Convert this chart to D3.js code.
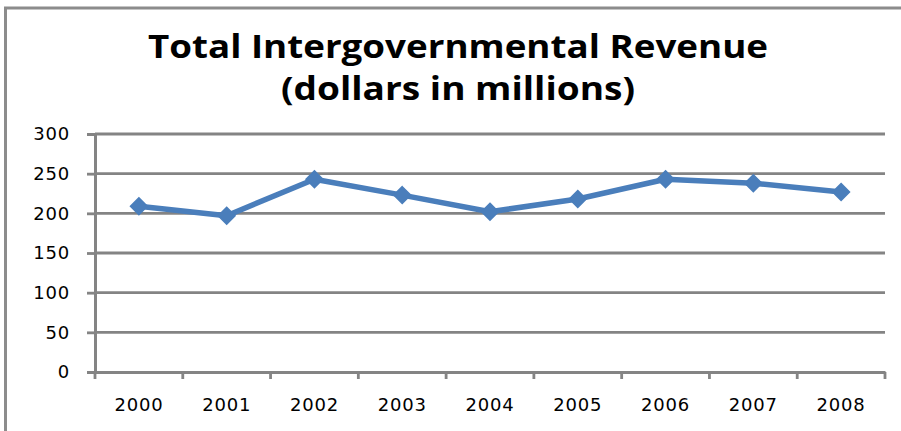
<!DOCTYPE html>
<html><head><meta charset="utf-8">
<script src="https://cdn.jsdelivr.net/npm/d3@7"></script>
<style>body{margin:0;background:#fff}svg{display:block}</style>
</head><body>
<script>
const years = ["2000","2001","2002","2003","2004","2005","2006","2007","2008"];
const revenue = [209, 197, 243, 223, 202, 218, 243, 238, 227];
const yTicks = [0, 50, 100, 150, 200, 250, 300];
const titleLines = ["Total Intergovernmental Revenue", "(dollars in millions)"];

const W = 901, H = 431;
const svg = d3.select("body").append("svg").attr("width", W).attr("height", H);
svg.append("rect").attr("width", W).attr("height", H).attr("fill", "#fff");

// outer chart border (only top/left visible)
svg.append("path").attr("d", `M5.5,${H} V8 H${W}`).attr("fill","none")
  .attr("stroke","#8c8c8c").attr("stroke-width",3);

const m = {left: 95, right: 885, top: 134, bottom: 372};
const x = d3.scaleBand().domain(years).range([m.left, m.right]);
const y = d3.scaleLinear().domain([0, 300]).range([m.bottom, m.top]);

const gridColor = "#848484";
const tickFont = sel => sel.attr("font-family","DejaVu Sans").attr("font-size",18)
  .attr("letter-spacing",0.8).attr("fill","#000");
// gridlines
svg.append("g").selectAll("line").data(yTicks.filter(d=>d>0)).join("line")
  .attr("x1", m.left).attr("x2", m.right)
  .attr("y1", d=>y(d)).attr("y2", d=>y(d))
  .attr("stroke", gridColor).attr("stroke-width", 2.8);

// y axis
const yAxis = svg.append("g").attr("transform", `translate(${m.left},0)`)
  .call(d3.axisLeft(y).tickValues(yTicks).tickSize(8).tickPadding(17));
yAxis.select(".domain").attr("stroke", gridColor).attr("stroke-width", 3);
yAxis.selectAll(".tick line").attr("stroke", gridColor).attr("stroke-width", 2.8);
yAxis.selectAll("text").call(tickFont);

// x axis
const xAxis = svg.append("g").attr("transform", `translate(0,${m.bottom})`)
  .call(d3.axisBottom(x).tickSize(0).tickPadding(26));
xAxis.select(".domain").attr("stroke", gridColor).attr("stroke-width", 3);
xAxis.selectAll("text").call(tickFont);
// category boundary tick marks
const bounds = years.map(d=>x(d)).concat([m.right]);
svg.append("g").selectAll("line").data(bounds).join("line")
  .attr("x1", d=>d).attr("x2", d=>d).attr("y1", m.bottom).attr("y2", m.bottom+7)
  .attr("stroke", gridColor).attr("stroke-width", 2.8);

// line
const cx = d => x(d) + x.bandwidth()/2;
const pts = years.map((d,i)=>[cx(d), y(revenue[i])]);
svg.append("path").datum(pts).attr("d", d3.line())
  .attr("fill","none").attr("stroke","#4a7ebb").attr("stroke-width",5.5)
  .attr("stroke-linejoin","round");
svg.append("g").selectAll("path").data(pts).join("path")
  .attr("d", d3.symbol(d3.symbolDiamond2, 180)())
  .attr("transform", d=>`translate(${d[0]},${d[1]})`)
  .attr("fill","#4a7ebb").attr("stroke","#4a7ebb").attr("stroke-width",1.5);

// title
svg.append("g").selectAll("text").data(titleLines).join("text")
  .attr("x", 458).attr("y", (d,i)=>58 + i*42)
  .attr("text-anchor","middle")
  .attr("font-family","Open Sans").attr("font-weight","bold").attr("font-size",32)
  .attr("fill","#000")
  .attr("textLength", (d,i)=> i===0 ? 620 : 354).attr("lengthAdjust","spacingAndGlyphs")
  .text(d=>d);
</script>
</body></html>
